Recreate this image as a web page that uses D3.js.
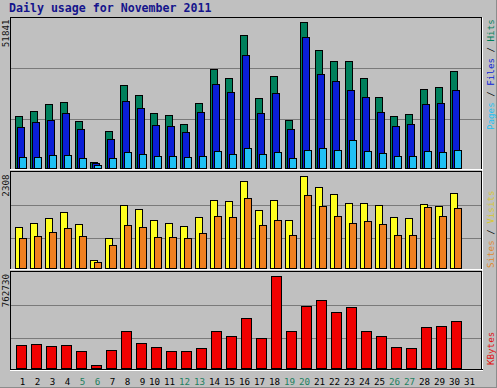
<!DOCTYPE html>
<html><head><meta charset="utf-8">
<script src="https://cdn.jsdelivr.net/npm/d3@7"></script>
<style>html,body{margin:0;padding:0;background:#c0c0c0;} svg{display:block;}</style>
</head><body>
<svg id="c" width="497" height="388"></svg>
<script>
const title = "Daily usage for November 2011";
const days = d3.range(1, 32);
const weekendDays = [5, 6, 12, 13, 19, 20, 26, 27];
const hits   = [18300,20170,22650,23360,16630,2120,12990,29370,25730,19460,18760,15570,23000,35040,31850,47070,24770,32560,16990,51841,41760,37870,37870,31850,25130,18400,19110,27960,28670,34330,0];
const files  = [14510,16280,16990,19460,13800,1770,10260,23710,21230,15220,14860,12740,19820,29730,26900,39990,19460,26540,13800,46360,33270,30790,27600,25130,19820,14860,15570,22650,23000,27600,0];
const pages  = [3890,3890,4490,4490,3430,1060,3430,5560,4850,4140,4250,3890,4250,6020,4950,7080,4950,5560,3540,6370,7080,6370,9910,6020,5200,4250,4250,6020,5660,6370,0];
const visits = [1039,1131,1264,1407,1106,205,763,1582,1482,1206,1131,1056,1282,1707,1682,2190,1457,1707,1206,2308,2032,1857,1632,1632,1582,1282,1256,1607,1557,1882,0];
const sites  = [763,813,914,1014,813,155,588,1089,1039,788,788,763,889,1307,1282,1757,1081,1206,831,1832,1557,1307,1131,1181,1106,831,831,1532,1307,1507,0];
const kbytes = [194650,203000,186300,194650,144500,27570,152900,303250,211360,177940,144500,144500,169590,303250,261480,411850,244770,762730,303250,512100,562220,461980,503750,303250,261480,177940,169590,336670,345020,386790,0];

const C = {hits:"#00805c", files:"#0a1ed8", pages:"#20c0f4", visits:"#ffff20", sites:"#f08020", kbytes:"#f00000"};
const mono = "'DejaVu Sans Mono', monospace";

const svg = d3.select("#c");
svg.append("rect").attr("width",497).attr("height",388).attr("fill","#c0c0c0");
svg.append("line").attr("x1",0).attr("x2",497).attr("y1",387.5).attr("y2",387.5).attr("stroke","#8c8c8c");
svg.append("line").attr("x1",496.5).attr("x2",496.5).attr("y1",0).attr("y2",388).attr("stroke","#8c8c8c");

svg.append("text").attr("x",9).attr("y",11.5)
  .attr("font-family",mono).attr("font-weight","bold").attr("font-size","11.6px")
  .attr("fill","#14148c").text(title);

const x = d3.scaleLinear().domain([1,31]).range([16,466]);

const panels = [
  {top:17.5, base:168, ytop:21.5, grid:[68.5,119.5], bottomColor:"#ffffff",
   max:d3.max(hits), labelEnd:19.5,
   series:[{v:hits,c:C.hits,dx:-1,w:7},{v:files,c:C.files,dx:1,w:7},{v:pages,c:C.pages,dx:3,w:7}],
   legend:{start:130, parts:[["Pages",C.pages],[" / ","#000"],["Files",C.files],[" / ","#000"],["Hits",C.hits]]}},
  {top:171.5, base:268, ytop:176, grid:[205.5,238.5], bottomColor:"#ffffff",
   max:d3.max(visits), labelEnd:174.5,
   series:[{v:visits,c:C.visits,dx:-1,w:7},{v:sites,c:C.sites,dx:3,w:7}],
   legend:{start:268, parts:[["Sites","#e08a30"],[" / ","#000"],["Visits","#d8c830"]]}},
  {top:271.5, base:368, ytop:276, grid:[305.5,338.5], bottomColor:"#000000",
   max:d3.max(kbytes), labelEnd:274,
   series:[{v:kbytes,c:C.kbytes,dx:0,w:10}],
   legend:{start:365, parts:[["KBytes","#e01010"]]}}
];

panels.forEach(p => {
  const g = svg.append("g");
  const y = d3.scaleLinear().domain([0,p.max]).range([p.base,p.ytop]);
  // gridlines
  p.grid.forEach(gy => g.append("line").attr("x1",11).attr("x2",481).attr("y1",gy).attr("y2",gy).attr("stroke","#7a7a7a"));
  // frame
  g.append("line").attr("x1",10).attr("x2",482).attr("y1",p.top).attr("y2",p.top).attr("stroke","#000");
  g.append("line").attr("x1",10.5).attr("x2",10.5).attr("y1",p.top).attr("y2",p.base+2).attr("stroke","#000");
  g.append("line").attr("x1",481.5).attr("x2",481.5).attr("y1",p.top).attr("y2",p.base+2).attr("stroke","#000");
  g.append("line").attr("x1",482.5).attr("x2",482.5).attr("y1",p.top).attr("y2",p.base+3).attr("stroke","#fff");
  g.append("line").attr("x1",10).attr("x2",483).attr("y1",p.base+1.5).attr("y2",p.base+1.5).attr("stroke",p.bottomColor);
  if (p.bottomColor === "#000000")
    g.append("line").attr("x1",10).attr("x2",483).attr("y1",p.base+2.5).attr("y2",p.base+2.5).attr("stroke","#fff");
  // bars
  p.series.forEach(s => {
    g.append("g").selectAll("rect")
      .data(days.map((d,i)=>({d, v:s.v[i]})).filter(o=>o.v>0))
      .join("rect")
      .attr("x", o => x(o.d) + s.dx + 0.5)
      .attr("width", s.w)
      .attr("y", o => Math.round(y(o.v)) + 0.5)
      .attr("height", o => p.base + 0.5 - (Math.round(y(o.v)) + 0.5))
      .attr("fill", s.c).attr("stroke","#000").attr("stroke-width",1);
  });
  // max label
  g.append("text").attr("transform",`translate(8.5,${p.labelEnd}) rotate(-90)`)
    .attr("text-anchor","end").attr("font-family",mono).attr("font-size","9.2px")
    .attr("fill","#111").text(p.max);
  // legend
  const t = g.append("text").attr("transform",`translate(493.5,${p.legend.start}) rotate(-90)`)
    .attr("font-family",mono).attr("font-size","9.2px").attr("xml:space","preserve");
  p.legend.parts.forEach(([s,c]) => t.append("tspan").attr("fill",c).text(s));
});

// day labels
svg.append("g").selectAll("text").data(days).join("text")
  .attr("x", d => x(d) + (d < 10 ? 6.5 : 3.5))
  .attr("y", 384.5)
  .attr("text-anchor","middle").attr("font-family",mono).attr("font-size","9.2px")
  .attr("fill", d => weekendDays.includes(d) ? "#1d7f5f" : "#000")
  .text(d => d);
</script>
</body></html>
